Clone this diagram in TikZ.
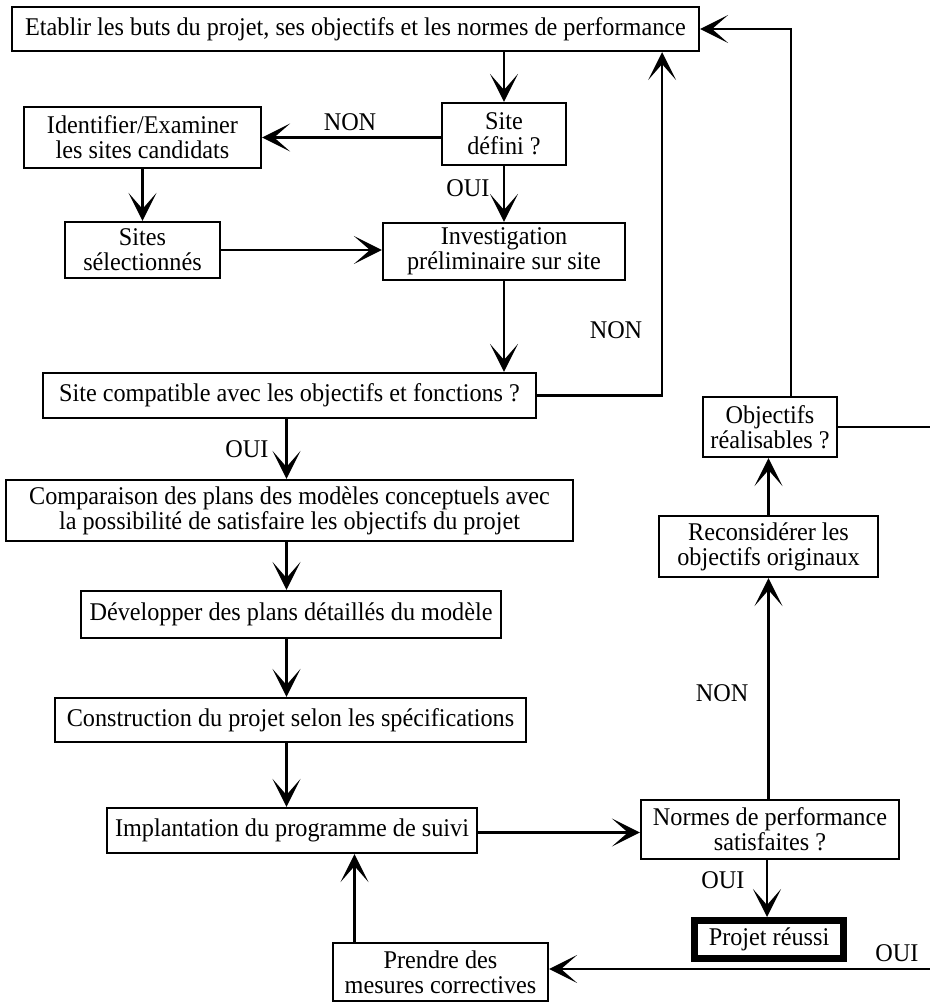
\documentclass[tikz,border=0pt]{standalone}
\usepackage{fontspec}
\setmainfont{Liberation Serif}[FakeStretch=0.95]
\usepackage{tikz}
\usetikzlibrary{arrows.meta,positioning,calc}

\tikzset{
    box/.style={rectangle, draw, line width=2.2pt, inner sep=0pt, align=center, font=\fontsize{25.5}{25}\selectfont},
    lbl/.style={inner sep=0pt, font=\fontsize{25.5}{25}\selectfont},
    arr/.style={-{Stealth[length=28pt, width=28pt, inset=16pt]}, line width=2.2pt}
}

\begin{document}
        \begin{tikzpicture}[x=1pt, y=-1pt]
            \useasboundingbox (0,0) rectangle (929,1003);

            % boxes, left column
            \node (etablir) [box, minimum width=687pt, minimum height=44pt] at (355.5,29) {Etablir les buts du projet, ses objectifs et les normes de performance};
            \node (defini) [box, minimum width=124pt, minimum height=62pt] at (504,134) {Site\\défini ?};
            \node (identifier) [box, minimum width=237pt, minimum height=61pt] at (142.5,137.5) {Identifier/Examiner\\les sites candidats};
            \node (selection) [box, minimum width=155pt, minimum height=56pt] at (142.5,250) {Sites\\sélectionnés};
            \node (investig) [box, minimum width=242pt, minimum height=57pt] at (504,251.5) {Investigation\\préliminaire sur site};
            \node (compat) [box, minimum width=493pt, minimum height=45pt] at (289.5,395.5) {Site compatible avec les objectifs et fonctions ?};
            \node (compar) [box, minimum width=567pt, minimum height=61pt] at (289.5,510.5) {Comparaison des plans des modèles conceptuels avec\\la possibilité de satisfaire les objectifs du projet};
            \node (develop) [box, minimum width=420pt, minimum height=47pt] at (291,614.5) {Développer des plans détaillés du modèle};
            \node (construct) [box, minimum width=471pt, minimum height=44pt] at (290.5,720) {Construction du projet selon les spécifications};
            \node (implant) [box, minimum width=370pt, minimum height=45pt] at (292,830.5) {Implantation du programme de suivi};
            \node (prendre) [box, minimum width=215pt, minimum height=58pt] at (440.5,972) {Prendre des\\mesures correctives};

            % boxes, right column
            \node (normes) [box, minimum width=258pt, minimum height=59pt] at (770,829.5) {Normes de performance\\satisfaites ?};
            \node (reussi) [box, line width=7pt, minimum width=149pt, minimum height=38pt] at (769,939.5) {Projet réussi};
            \node (reconsid) [box, minimum width=219pt, minimum height=61pt] at (768.5,546.5) {Reconsidérer les\\objectifs originaux};
            \node (realis) [box, minimum width=134pt, minimum height=60pt] at (770,427) {Objectifs\\réalisables ?};

            % labels
            \node (non1) [lbl] at (350,122) {NON};
            \node (oui1) [lbl] at (468,188) {OUI};
            \node (non2) [lbl] at (616,330) {NON};
            \node (oui2) [lbl] at (247,449) {OUI};
            \node (non3) [lbl] at (722,693) {NON};
            \node (oui3) [lbl] at (723,880) {OUI};
            \node (oui4) [lbl] at (897,953) {OUI};

            \coordinate (bord) at (932,427);

            \draw [arr] (defini.north |- etablir.south) -- (defini.north);
            \draw [arr] (defini.west |- identifier.east) -- (identifier.east);
            \draw [arr] (defini.south) -- (investig.north);
            \draw [arr] (identifier.south) -- (selection.north);
            \draw [arr] (selection.east) -- (selection.east -| investig.west);
            \draw [arr] (investig.south) -- (investig.south |- compat.north);
            \draw [arr] (compat.east) -| ([xshift=-38pt]etablir.south east);
            \draw [arr] ([xshift=-3pt]compat.south) -- ([xshift=-3pt]compar.north);
            \draw [arr] ([xshift=-3pt]compar.south) -- ([xshift=-3pt]compar.south |- develop.north);
            \draw [arr] ([xshift=-3pt]compar.south |- develop.south) -- ([xshift=-3pt]compar.south |- construct.north);
            \draw [arr] ([xshift=-3pt]compar.south |- construct.south) -- ([xshift=-3pt]compar.south |- implant.north);
            \draw [arr] ([yshift=-2pt]implant.east) -- ([yshift=-2pt]implant.east -| normes.west);
            \draw [arr] ([xshift=-3pt]normes.south) -- ([xshift=-3pt]normes.south |- reussi.north);
            \draw [arr] (normes.north -| reconsid.north) -- (reconsid.south);
            \draw [arr] (reconsid.north) -- (reconsid.north |- realis.south);
            \draw [arr] ([xshift=21pt]realis.north) |- (etablir.east);
            \draw [arr] (realis.east) -- (bord) |- ([yshift=3pt]prendre.east);
            \draw [arr] ([xshift=-86pt]prendre.north) -- ([xshift=-86pt]prendre.north |- implant.south);
        \end{tikzpicture}
\end{document}
